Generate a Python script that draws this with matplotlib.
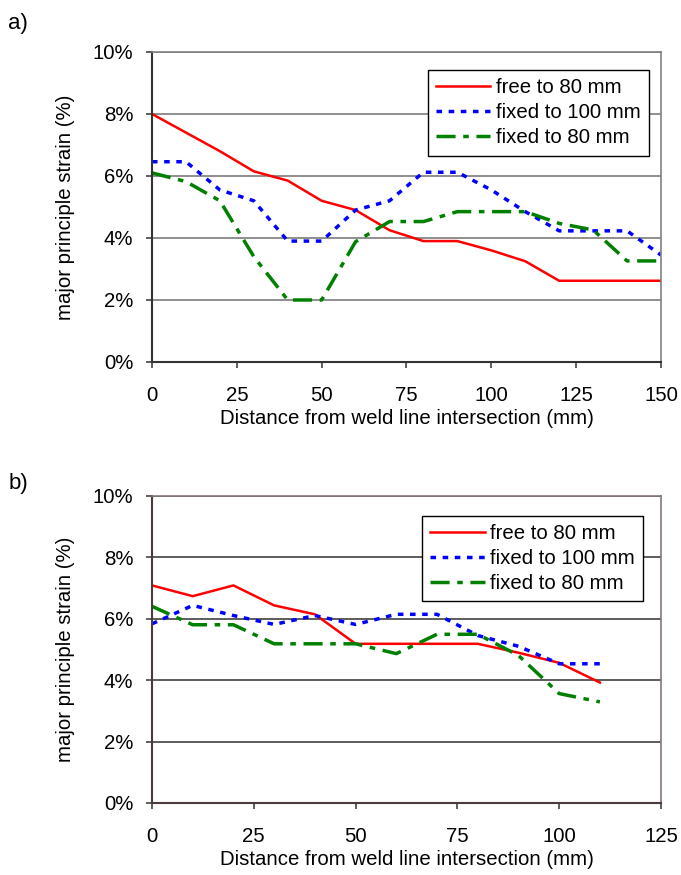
import matplotlib.pyplot as plt
from matplotlib.ticker import FuncFormatter

plt.rcParams['font.family'] = ['Liberation Sans', 'DejaVu Sans']
plt.rcParams['font.size'] = 14.7

# panel a) data, every 10 mm
dist_a = [0, 10, 20, 30, 40, 50, 60, 70, 80, 90, 100, 110, 120, 130, 140, 150]
free80_a = [8.0, 7.4, 6.8, 6.15, 5.85, 5.2, 4.9, 4.25, 3.9, 3.9, 3.6, 3.25, 2.62, 2.62, 2.62, 2.62]
fixed100_a = [6.46, 6.46, 5.55, 5.2, 3.9, 3.9, 4.9, 5.2, 6.12, 6.12, 5.55, 4.85, 4.23, 4.23, 4.23, 3.45]
fixed80_a = [6.1, 5.82, 5.2, 3.4, 2.0, 2.0, 3.88, 4.53, 4.53, 4.85, 4.85, 4.85, 4.47, 4.26, 3.26, 3.26]

# panel b) data
dist_b = [0, 10, 20, 30, 40, 50, 60, 70, 80, 90, 100, 110]
free80_b = [7.08, 6.73, 7.08, 6.43, 6.14, 5.18, 5.18, 5.18, 5.18, 4.89, 4.56, 3.92]
fixed100_b = [5.83, 6.43, 6.1, 5.81, 6.1, 5.81, 6.14, 6.14, 5.45, 5.1, 4.53, 4.53]
fixed80_b = [6.4, 5.8, 5.8, 5.18, 5.18, 5.18, 4.86, 5.49, 5.49, 4.8, 3.56, 3.29]

labels = ['free to 80 mm', 'fixed to 100 mm', 'fixed to 80 mm']

fig = plt.figure(figsize=(6.81, 8.75), dpi=100)
ax_a = fig.add_axes([0.2232, 0.5863, 0.7474, 0.3543])
ax_b = fig.add_axes([0.2232, 0.0823, 0.7474, 0.3512])

pct = FuncFormatter(lambda v, p: f'{v:.0f}%')


def draw(ax, x, s1, s2, s3, xmax, grid_col, spine_col, side_col, leg_anchor):
    ax.plot(x, s1, color='red', lw=1.8, label=labels[0])
    ax.plot(x, s2, color='blue', lw=2.5, dashes=(1.6, 1.9), label=labels[1])
    ax.plot(x, s3, color='green', lw=2.5, dashes=(5.5, 2.2, 1.6, 2.2), label=labels[2])
    ax.set_xlim(0, xmax)
    ax.set_ylim(0, 10)
    ax.set_xticks(range(0, xmax + 1, 25))
    ax.set_yticks(range(0, 11, 2))
    ax.yaxis.set_major_formatter(pct)
    ax.grid(axis='y', color=grid_col, lw=1.1)
    ax.set_axisbelow(True)
    for s in ('left', 'bottom'):
        ax.spines[s].set_color(spine_col)
        ax.spines[s].set_linewidth(1.5)
    for s in ('top', 'right'):
        ax.spines[s].set_color(side_col)
        ax.spines[s].set_linewidth(1.2)
    ax.tick_params(direction='out', length=4.5, width=1.1, color='#333333')
    ax.tick_params(axis='x', pad=12.5)
    ax.tick_params(axis='y', pad=9)
    ax.set_xlabel('Distance from weld line intersection (mm)', labelpad=3.5)
    ax.set_ylabel('major principle strain (%)', labelpad=13)
    leg = ax.legend(loc='upper right', bbox_to_anchor=leg_anchor, handlelength=2.65,
                    handletextpad=0.28, borderpad=0.4, labelspacing=0.3,
                    fancybox=False, framealpha=1, edgecolor='black', borderaxespad=0)
    leg.get_frame().set_linewidth(1.0)


draw(ax_a, dist_a, free80_a, fixed100_a, fixed80_a, 150,
     '#707070', '#333333', '#808080', (0.976, 0.942))
draw(ax_b, dist_b, free80_b, fixed100_b, fixed80_b, 125,
     '#303030', '#4a3a3a', '#8a7878', (0.965, 0.935))

fig.text(0.012, 0.967, 'a)', fontsize=16, va='baseline')
fig.text(0.012, 0.441, 'b)', fontsize=16, va='baseline')

fig.savefig('out.png', dpi=100)
